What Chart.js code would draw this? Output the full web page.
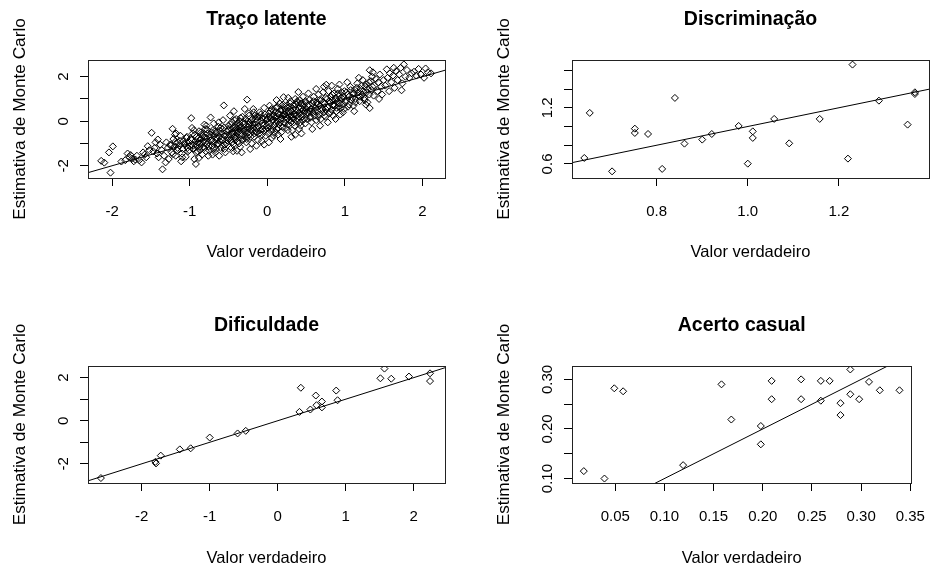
<!DOCTYPE html>
<html lang="pt">
<head>
<meta charset="UTF-8">
<title>Estimativas de Monte Carlo</title>
<script src="https://cdn.jsdelivr.net/npm/chart.js"></script>
<style>
  html, body { margin: 0; padding: 0; background: #fff; overflow: hidden; }
  body { width: 942px; height: 568px; position: relative; }
  .painel { position: absolute; width: 458px; height: 262px; }
</style>
</head>
<body>
<div class="painel" style="left:0;top:0"><canvas id="graf1"></canvas></div>
<div class="painel" style="left:484px;top:0"><canvas id="graf2"></canvas></div>
<div class="painel" style="left:0;top:306px"><canvas id="graf3"></canvas></div>
<div class="painel" style="left:484px;top:306px"><canvas id="graf4"></canvas></div>
<script>
// ---- Traço latente ----
const tracoVerdadeiro = [
  -2.14,-2.10,-2.04,-1.99,-2.02,-1.88,-1.76,-1.74,-1.72,-1.78,
  -1.70,-1.60,-1.65,-1.80,-1.83,-1.68,-1.56,-1.52,-1.54,-1.62,
  -1.58,
  -1.49,-1.41,-1.35,-1.22,-1.45,-1.42,-1.40,-1.38,-1.36,-1.33,
  -1.30,-1.28,-1.27,-1.25,-1.23,-1.21,-1.20,-1.18,-1.16,-1.15,
  -1.13,-1.12,-1.10,-1.09,-1.08,-1.06,-1.05,-1.04,-1.03,-1.02,
  -1.01,-1.00,-1.47,-1.44,-1.31,-1.19,-1.11,
  -0.98,-0.94,-0.92,-0.73,-0.56,-0.54,-0.99,-0.97,-0.96,-0.95,
  -0.93,-0.92,-0.91,-0.90,-0.89,-0.88,-0.87,-0.86,-0.85,-0.84,
  -0.83,-0.82,-0.81,-0.80,-0.79,-0.78,-0.77,-0.76,-0.75,-0.74,
  -0.72,-0.71,-0.70,-0.69,-0.68,-0.67,-0.66,-0.65,-0.64,-0.63,
  -0.62,-0.61,-0.60,-0.59,-0.58,-0.57,-0.55,-0.53,-0.52,-0.51,
  -0.50,-0.97,-0.88,-0.81,-0.76,-0.69,-0.62,-0.57,-0.85,-0.79,
  -0.72,-0.66,-0.60,-0.55,
  -0.26,-0.39,-0.49,-0.48,-0.47,-0.46,-0.45,-0.44,-0.43,-0.42,
  -0.41,-0.40,-0.39,-0.38,-0.37,-0.36,-0.35,-0.34,-0.33,-0.32,
  -0.31,-0.30,-0.29,-0.28,-0.27,-0.25,-0.24,-0.23,-0.22,-0.21,
  -0.20,-0.19,-0.18,-0.17,-0.16,-0.15,-0.14,-0.13,-0.12,-0.11,
  -0.10,-0.09,-0.08,-0.07,-0.06,-0.05,-0.04,-0.03,-0.02,-0.01,
  -0.48,-0.44,-0.41,-0.36,-0.33,-0.29,-0.26,-0.22,-0.18,-0.14,
  -0.11,-0.07,-0.04,-0.02,-0.46,-0.35,-0.24,-0.15,-0.06,-0.43,
  0.08,0.36,0.21,0.40,0.01,0.02,0.03,0.04,0.05,0.06,
  0.07,0.09,0.10,0.11,0.12,0.13,0.14,0.15,0.16,0.17,
  0.18,0.19,0.20,0.22,0.23,0.24,0.25,0.26,0.27,0.28,
  0.29,0.30,0.31,0.32,0.33,0.34,0.35,0.37,0.38,0.39,
  0.41,0.42,0.43,0.44,0.45,0.46,0.47,0.48,0.49,0.50,
  0.03,0.06,0.12,0.17,0.22,0.27,0.31,0.36,0.41,0.46,
  0.08,0.14,0.19,0.24,0.29,0.34,0.39,0.44,0.49,0.02,
  0.76,0.51,0.52,0.53,0.54,0.55,0.56,0.57,0.58,0.59,
  0.60,0.61,0.62,0.63,0.64,0.65,0.66,0.67,0.68,0.69,
  0.70,0.71,0.72,0.73,0.74,0.75,0.77,0.78,0.79,0.80,
  0.81,0.82,0.83,0.84,0.85,0.86,0.87,0.88,0.89,0.90,
  0.91,0.92,0.93,0.94,0.95,0.96,0.97,0.98,0.99,0.53,
  0.58,0.63,0.68,0.73,0.78,0.83,0.88,0.93,0.55,0.65,
  0.75,0.85,0.95,
  1.32,1.32,1.01,1.02,1.04,1.05,1.07,1.08,1.10,1.11,
  1.13,1.14,1.16,1.17,1.19,1.20,1.22,1.23,1.25,1.26,
  1.28,1.29,1.31,1.34,1.35,1.37,1.38,1.40,1.42,1.43,
  1.45,1.47,1.48,1.50,1.03,1.12,1.18,1.27,1.36,1.44,
  1.54,1.73,1.76,2.04,2.02,1.89,1.52,1.55,1.58,1.60,
  1.62,1.64,1.66,1.68,1.70,1.74,1.78,1.80,1.83,1.86,
  1.92,1.95,1.98,2.07,1.57,1.63,1.72,2.11,
  -1.245,-1.215,-1.185,-1.155,-1.125,-1.095,-1.065,-1.035,-1.005,-0.975,
  -0.955,-0.935,-0.915,-0.895,-0.875,-0.855,-0.835,-0.815,-0.795,-0.775,
  -0.755,-0.735,-0.715,-0.695,-0.675,-0.655,-0.635,-0.615,-0.595,-0.575,
  -0.555,-0.535,-0.515,-0.945,-0.865,-0.785,-0.705,-0.625,-0.545,-1.175,
  -0.495,-0.485,-0.475,-0.465,-0.455,-0.445,-0.435,-0.425,-0.415,-0.405,
  -0.395,-0.385,-0.375,-0.365,-0.355,-0.345,-0.335,-0.325,-0.315,-0.305,
  -0.295,-0.285,-0.275,-0.265,-0.255,-0.245,-0.235,-0.225,-0.215,-0.205,
  -0.195,-0.185,-0.175,-0.165,-0.155,-0.145,-0.125,-0.105,-0.085,-0.065,
  -0.045,-0.025,-0.005,
  0.005,0.015,0.025,0.035,0.045,0.055,0.065,0.075,0.085,0.095,
  0.105,0.115,0.125,0.135,0.145,0.155,0.165,0.175,0.185,0.195,
  0.205,0.215,0.225,0.235,0.245,0.255,0.265,0.275,0.285,0.295,
  0.305,0.315,0.325,0.335,0.345,0.355,0.365,0.375,0.385,0.395,
  0.405,0.415,0.425,0.435,0.445,0.455,0.465,0.475,0.485,0.495,
  0.515,0.535,0.555,0.575,0.595,
  0.615,0.635,0.655,0.675,0.695,0.715,0.735,0.755,0.775,0.795,
  0.815,0.835,0.855,0.875,0.895,0.915,0.935,0.955,0.975,0.995,
  1.015,1.035,1.055,1.075,1.095,1.115,1.135,1.155,1.175,1.195,
  1.215,1.235,1.255,1.275,1.295,1.315,1.335,1.355
];
const tracoEstimado = [
  -1.78,-1.86,-1.40,-1.13,-2.31,-1.81,-1.52,-1.68,-1.80,-1.60,
  -1.72,-1.40,-1.75,-1.45,-1.75,-1.55,-1.62,-1.30,-1.12,-1.85,
  -1.50,
  -0.52,-0.82,-2.16,-0.34,-1.20,-1.45,-1.62,-1.05,-1.30,-1.55,
  -0.95,-1.20,-1.70,-1.05,-1.40,-0.80,-1.15,-1.55,-1.30,-0.95,
  -1.10,-0.65,-1.45,-1.25,-0.90,-1.05,-1.60,-0.75,-1.20,-1.35,
  -0.95,-1.10,-1.35,-0.95,-1.85,-0.60,-1.80,
  0.14,-1.70,-1.92,0.17,0.71,-1.40,-0.80,-1.05,-0.55,-1.25,
  -0.90,-1.10,-0.70,-1.35,-0.95,-0.45,-1.15,-0.80,-1.00,-1.50,
  -0.65,-0.90,-1.20,-0.35,-0.75,-1.05,-0.55,-0.95,-1.30,-0.70,
  -0.85,-1.10,-0.40,-0.65,-0.95,-1.40,-0.50,-0.80,-1.05,-0.25,
  -0.70,-0.90,-1.20,-0.55,-0.35,-0.85,-0.65,-1.00,-0.45,-0.75,
  -0.20,-0.30,-1.65,-0.15,-1.55,-0.10,-1.55,0.05,-0.60,-1.35,
  -0.50,-1.25,-0.30,-1.25,
  0.97,-1.33,-0.60,-0.30,-0.85,-0.05,-0.50,-1.05,-0.25,-0.70,
  -0.40,0.10,-0.55,-0.90,-0.20,-0.45,-1.15,-0.30,-0.65,0.20,
  -0.35,-0.80,-0.10,-0.50,-0.95,-0.25,0.35,-0.60,-0.05,-0.40,
  -1.00,0.10,-0.30,-0.70,0.25,-0.15,-0.50,0.05,-0.85,-0.25,
  0.40,-0.40,0.00,-0.60,0.15,-0.20,-1.05,0.30,-0.35,0.05,
  0.25,-1.35,-0.75,0.00,-1.40,0.55,-0.70,-1.25,0.55,-1.10,
  0.20,-0.90,0.60,-0.65,-1.20,-0.15,-0.15,-0.45,-0.35,0.45,
  -0.64,-0.61,1.08,1.31,-0.30,0.20,-0.10,0.45,-0.45,0.05,
  0.30,-0.20,0.15,0.60,-0.35,0.00,0.35,-0.15,0.80,0.10,
  -0.50,0.25,0.50,-0.05,0.30,-0.30,0.70,0.15,-0.15,0.45,
  0.05,0.90,0.25,-0.40,0.55,0.10,0.35,0.75,0.00,0.45,
  0.20,0.95,-0.20,0.60,0.30,0.05,0.75,0.40,-0.10,0.55,
  0.70,-0.75,0.95,-0.80,0.60,1.05,-0.70,1.00,-0.35,1.10,
  0.45,-0.60,0.70,0.20,0.65,-0.05,0.85,-0.55,0.90,-0.95,
  1.64,0.10,0.70,0.35,0.95,0.15,0.55,-0.05,0.80,0.40,
  1.10,0.25,0.60,0.05,0.85,0.45,1.20,0.30,0.70,0.10,
  0.95,0.55,1.30,0.40,0.80,0.20,1.00,0.60,1.35,0.35,
  0.85,1.10,0.50,0.95,0.25,1.25,0.70,1.05,0.45,0.90,
  1.45,0.65,1.15,0.30,0.95,1.30,0.75,1.10,0.55,1.25,
  -0.35,1.45,-0.20,1.55,-0.05,1.60,0.10,1.65,0.45,0.75,
  0.55,0.70,0.60,
  2.29,0.59,0.85,1.30,0.65,1.10,1.55,0.95,1.25,0.70,
  1.40,1.00,1.70,1.15,0.90,1.45,1.20,1.85,1.05,1.55,
  1.30,0.85,1.75,1.40,2.00,1.15,1.60,1.90,1.35,1.75,
  2.10,1.55,1.20,1.85,1.75,0.45,1.95,0.75,2.20,1.00,
  2.33,1.39,2.55,2.37,1.95,2.22,1.60,1.95,2.15,1.75,
  2.05,1.50,2.25,1.85,2.10,1.70,2.00,2.30,1.95,2.15,
  2.05,2.35,2.10,2.20,1.35,2.40,2.40,2.15,
  -1.10,-1.48,-0.92,-1.20,-0.88,-1.62,-1.00,-0.70,-1.30,-0.85,
  -1.10,-0.62,-1.40,-0.78,-1.02,-0.50,-1.18,-0.72,-0.95,-0.38,
  -1.12,-0.60,-0.92,-1.25,-0.45,-0.72,-1.00,-0.42,-0.80,-1.10,
  -0.28,-0.60,-0.88,-0.40,-1.30,-0.20,-1.50,-0.05,-1.05,-0.55,
  -0.40,-0.75,-0.15,-0.62,-0.95,-0.30,-0.55,0.05,-0.85,-0.25,
  -0.70,-0.10,-0.48,-1.00,-0.30,0.15,-0.55,-0.85,-0.05,-0.45,
  -0.65,0.10,-0.35,-0.80,0.00,-0.50,0.25,-0.30,-0.70,0.05,
  -0.45,-0.15,0.40,-0.55,0.10,-0.30,0.20,-0.55,0.30,-0.10,
  -0.45,0.15,-0.20,
  0.10,-0.55,0.35,-0.25,0.15,0.55,-0.35,0.05,0.25,-0.50,
  0.40,-0.10,0.20,0.65,-0.30,0.30,-0.05,0.50,0.15,-0.25,
  0.75,0.30,-0.10,0.45,0.05,0.60,-0.40,0.35,0.20,0.80,
  -0.05,0.45,0.15,0.70,0.30,-0.20,0.55,0.25,0.90,0.10,
  0.60,0.35,-0.05,0.80,0.20,0.50,0.70,0.10,0.45,0.85,
  0.40,0.75,0.20,0.55,0.90,
  0.45,0.80,0.20,0.95,0.50,0.85,0.25,1.05,0.65,0.90,
  0.40,1.20,0.75,0.95,0.60,1.25,0.80,1.05,0.40,1.35,
  0.95,1.20,0.75,1.40,1.05,1.25,0.85,1.50,1.30,1.10,
  1.60,1.35,0.95,1.65,1.45,1.20,1.80,1.55
];
const tracoTicks = [-2, -1, 0, 1, 2];
const tracoRotulosX = ['-2', '-1', '0', '1', '2'];
const tracoRotulosY = ['-2', '', '0', '', '2'];

// ---- Discriminação ----
const discrVerdadeiro = [0.641, 0.653, 0.702, 0.752, 0.752, 0.781, 0.812, 0.840, 0.861, 0.900, 0.921, 0.980,
                         1.000, 1.011, 1.011, 1.058, 1.091, 1.158, 1.220, 1.230, 1.288, 1.351, 1.367, 1.367];
const discrEstimado   = [0.664, 1.145, 0.521, 0.977, 0.931, 0.920, 0.547, 1.305, 0.817, 0.860, 0.920, 1.006,
                         0.603, 0.948, 0.878, 1.081, 0.820, 1.081, 0.657, 1.661, 1.276, 1.020, 1.365, 1.347];
const discrTicksX = [0.8, 1.0, 1.2];
const discrRotulosX = ['0.8', '1.0', '1.2'];
const discrTicksY = [0.6, 0.8, 1.0, 1.2, 1.4, 1.6];
const discrRotulosY = ['0.6', '', '', '1.2', '', ''];

// ---- Dificuldade ----
const difVerdadeiro = [-2.60, -1.80, -1.79, -1.72, -1.44, -1.28, -1.00, -0.59, -0.47, 0.32, 0.34, 0.48,
                       0.56, 0.57, 0.65, 0.65, 0.86, 0.88, 1.51, 1.57, 1.67, 1.93, 2.24, 2.24];
const difEstimado   = [-2.66, -1.91, -1.98, -1.62, -1.33, -1.28, -0.78, -0.59, -0.47, 0.41, 1.53, 0.52,
                       1.17, 0.72, 0.89, 0.62, 1.40, 0.95, 1.97, 2.42, 1.95, 2.05, 2.20, 1.84];
const difTicks = [-2, -1, 0, 1, 2];
const difRotulosX = ['-2', '-1', '0', '1', '2'];
const difRotulosY = ['-2', '', '0', '', '2'];

// ---- Acerto casual ----
const acertoVerdadeiro = [0.018, 0.039, 0.049, 0.058, 0.119, 0.158, 0.168, 0.198, 0.198, 0.209, 0.209, 0.239,
                          0.239, 0.259, 0.259, 0.268, 0.279, 0.279, 0.289, 0.289, 0.298, 0.308, 0.319, 0.339];
const acertoEstimado   = [0.115, 0.100, 0.282, 0.276, 0.127, 0.290, 0.219, 0.206, 0.169, 0.297, 0.260, 0.300,
                          0.260, 0.297, 0.257, 0.297, 0.252, 0.228, 0.320, 0.270, 0.260, 0.295, 0.278, 0.278];
const acertoTicksX = [0.05, 0.10, 0.15, 0.20, 0.25, 0.30, 0.35];
const acertoRotulosX = ['0.05', '0.10', '0.15', '0.20', '0.25', '0.30', '0.35'];
const acertoTicksY = [0.10, 0.15, 0.20, 0.25, 0.30];
const acertoRotulosY = ['0.10', '', '0.20', '', '0.30'];

// reta de referência y = a + b*x
const retaIntercepto = 0;
const retaInclinacao = 1;

const FONTE = '"Liberation Sans", Arial, sans-serif';
Chart.defaults.font.family = FONTE;
Chart.defaults.color = '#000';

// caixa em volta da área do gráfico (como box() do R)
const caixaPlugin = {
    id: 'caixa',
    afterDraw(chart) {
        const a = chart.chartArea;
        const ctx = chart.ctx;
        ctx.save();
        ctx.strokeStyle = '#222';
        ctx.lineWidth = 1;
        ctx.strokeRect(Math.round(a.left) + 0.5, Math.round(a.top) + 0.5,
                       Math.round(a.right - a.left), Math.round(a.bottom - a.top));
        ctx.restore();
    }
};

// rótulos do eixo y girados, como las=0
const rotulosYPlugin = {
    id: 'rotulosY',
    afterDraw(chart, args, opts) {
        const s = chart.scales.y;
        const ctx = chart.ctx;
        ctx.save();
        ctx.fillStyle = '#000';
        ctx.font = '15px ' + FONTE;
        ctx.textAlign = 'center';
        ctx.textBaseline = 'middle';
        opts.valores.forEach((v, i) => {
            const r = opts.rotulos[i];
            if (!r) return;
            ctx.save();
            ctx.translate(chart.chartArea.left - 24, s.getPixelForValue(v));
            ctx.rotate(-Math.PI / 2);
            ctx.fillText(r, 0, 0);
            ctx.restore();
        });
        ctx.restore();
    }
};

function criarGrafico(id, p) {
    const pontos = p.x.map((v, i) => ({ x: v, y: p.y[i] }));
    const reta = [p.xMin, p.xMax].map(v => ({ x: v, y: retaIntercepto + retaInclinacao * v }));

    new Chart(document.getElementById(id), {
        type: 'scatter',
        data: {
            datasets: [{
                data: pontos,
                pointStyle: 'rectRot',
                pointRadius: 3.5,
                pointBorderWidth: 1,
                pointBorderColor: '#000',
                pointBackgroundColor: 'rgba(0,0,0,0)'
            }, {
                type: 'line',
                data: reta,
                borderColor: '#000',
                borderWidth: 1,
                pointRadius: 0
            }]
        },
        options: {
            responsive: true,
            maintainAspectRatio: false,
            animation: false,
            events: [],
            layout: { padding: { left: 0, right: 13, top: 0, bottom: 0 } },
            plugins: {
                legend: { display: false },
                tooltip: { enabled: false },
                title: {
                    display: true,
                    text: p.titulo,
                    fullSize: false,
                    color: '#000',
                    font: { size: 19.5, weight: 'bold', lineHeight: 1.2 },
                    padding: { top: 8.3, bottom: 28.3 }
                },
                rotulosY: { valores: p.ticksY, rotulos: p.rotulosY }
            },
            scales: {
                x: {
                    type: 'linear',
                    min: p.xMin,
                    max: p.xMax,
                    afterBuildTicks: s => { s.ticks = p.ticksX.map(v => ({ value: v })); },
                    afterFit: s => { s.height = p.alturaX; },
                    ticks: {
                        callback: (v, i) => p.rotulosX[i],
                        color: '#000',
                        font: { size: 15 },
                        padding: 17,
                        maxRotation: 0,
                        autoSkip: false
                    },
                    grid: { drawOnChartArea: false, drawTicks: true, tickLength: 8, color: '#000' },
                    border: { display: false },
                    title: {
                        display: true,
                        text: 'Valor verdadeiro',
                        color: '#000',
                        font: { size: 16.5, lineHeight: 1.2 },
                        padding: { top: 0, bottom: 0 }
                    }
                },
                y: {
                    type: 'linear',
                    min: p.yMin,
                    max: p.yMax,
                    afterBuildTicks: s => { s.ticks = p.ticksY.map(v => ({ value: v })); },
                    afterFit: s => { s.width = 88; },
                    ticks: { display: false },
                    grid: { drawOnChartArea: false, drawTicks: true, tickLength: 8, color: '#000' },
                    border: { display: false },
                    title: {
                        display: true,
                        text: 'Estimativa de Monte Carlo',
                        color: '#000',
                        font: { size: 17.2, lineHeight: 1.2 },
                        padding: { top: 10.2, bottom: 0 }
                    }
                }
            }
        },
        plugins: [caixaPlugin, rotulosYPlugin]
    });
}

criarGrafico('graf1', {
    titulo: 'Traço latente', x: tracoVerdadeiro, y: tracoEstimado,
    xMin: -2.31, xMax: 2.29, yMin: -2.55, yMax: 2.75,
    ticksX: tracoTicks, rotulosX: tracoRotulosX, ticksY: tracoTicks, rotulosY: tracoRotulosY,
    alturaX: 84
});
criarGrafico('graf2', {
    titulo: 'Discriminação', x: discrVerdadeiro, y: discrEstimado,
    xMin: 0.614, xMax: 1.398, yMin: 0.45, yMax: 1.71,
    ticksX: discrTicksX, rotulosX: discrRotulosX, ticksY: discrTicksY, rotulosY: discrRotulosY,
    alturaX: 84
});
criarGrafico('graf3', {
    titulo: 'Dificuldade', x: difVerdadeiro, y: difEstimado,
    xMin: -2.79, xMax: 2.46, yMin: -2.89, yMax: 2.54,
    ticksX: difTicks, rotulosX: difRotulosX, ticksY: difTicks, rotulosY: difRotulosY,
    alturaX: 85
});
criarGrafico('graf4', {
    titulo: 'Acerto casual', x: acertoVerdadeiro, y: acertoEstimado,
    xMin: 0.006, xMax: 0.351, yMin: 0.091, yMax: 0.327,
    ticksX: acertoTicksX, rotulosX: acertoRotulosX, ticksY: acertoTicksY, rotulosY: acertoRotulosY,
    alturaX: 85
});
</script>
</body>
</html>
